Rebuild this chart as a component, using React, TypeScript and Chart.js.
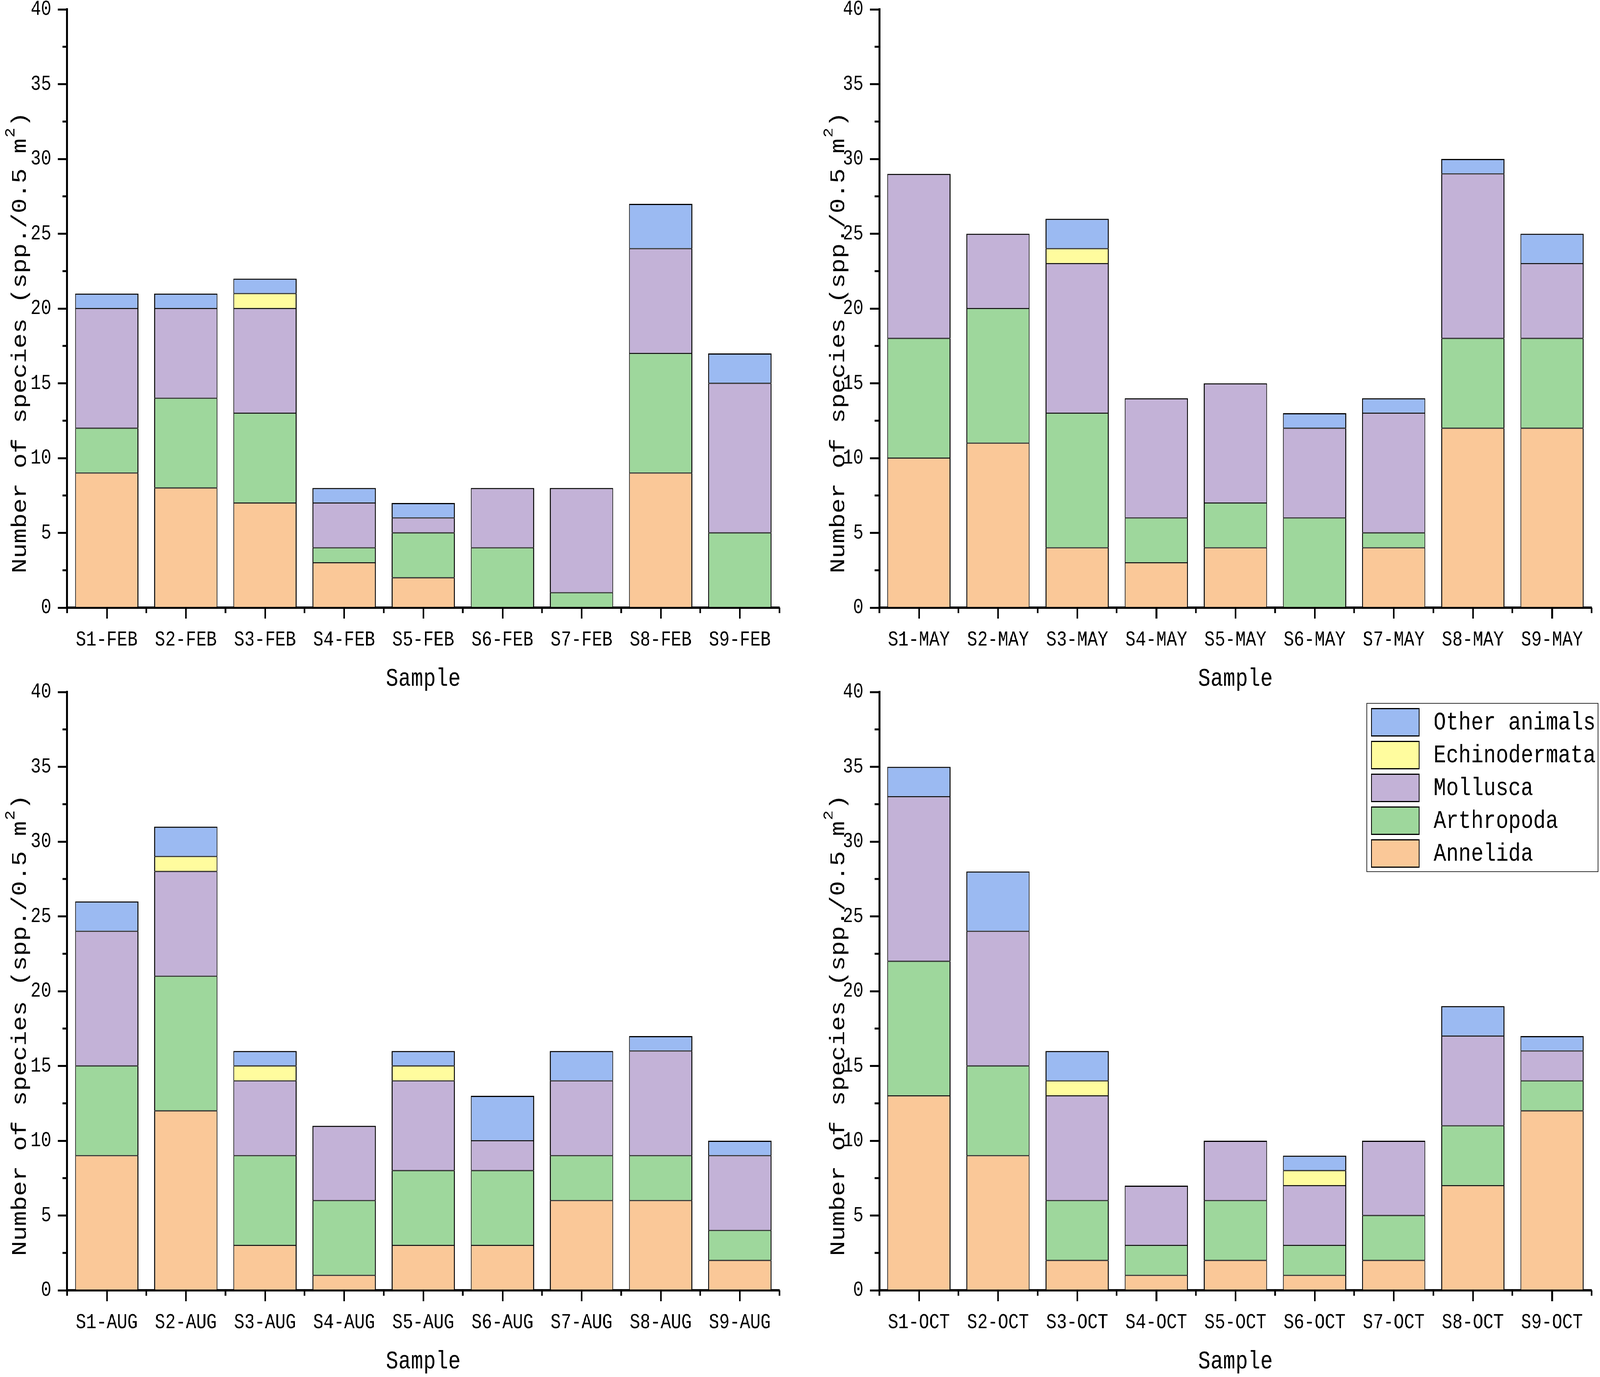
import React, { useEffect, useRef } from 'react';
import { Chart, registerables } from 'chart.js';

Chart.register(...registerables);

// ---------- data ----------
const SERIES = ['Annelida', 'Arthropoda', 'Mollusca', 'Echinodermata', 'Other animals'];
const COLORS = ['#FAC898', '#9ED79C', '#C3B2D7', '#FFFC9E', '#9BBAF2'];

const FEB_LABELS = ['S1-FEB', 'S2-FEB', 'S3-FEB', 'S4-FEB', 'S5-FEB', 'S6-FEB', 'S7-FEB', 'S8-FEB', 'S9-FEB'];
const MAY_LABELS = ['S1-MAY', 'S2-MAY', 'S3-MAY', 'S4-MAY', 'S5-MAY', 'S6-MAY', 'S7-MAY', 'S8-MAY', 'S9-MAY'];
const AUG_LABELS = ['S1-AUG', 'S2-AUG', 'S3-AUG', 'S4-AUG', 'S5-AUG', 'S6-AUG', 'S7-AUG', 'S8-AUG', 'S9-AUG'];
const OCT_LABELS = ['S1-OCT', 'S2-OCT', 'S3-OCT', 'S4-OCT', 'S5-OCT', 'S6-OCT', 'S7-OCT', 'S8-OCT', 'S9-OCT'];

const FEB_ANNELIDA = [9, 8, 7, 3, 2, 0, 0, 9, 0];
const FEB_ARTHROPODA = [3, 6, 6, 1, 3, 4, 1, 8, 5];
const FEB_MOLLUSCA = [8, 6, 7, 3, 1, 4, 7, 7, 10];
const FEB_ECHINODERMATA = [0, 0, 1, 0, 0, 0, 0, 0, 0];
const FEB_OTHER = [1, 1, 1, 1, 1, 0, 0, 3, 2];

const MAY_ANNELIDA = [10, 11, 4, 3, 4, 0, 4, 12, 12];
const MAY_ARTHROPODA = [8, 9, 9, 3, 3, 6, 1, 6, 6];
const MAY_MOLLUSCA = [11, 5, 10, 8, 8, 6, 8, 11, 5];
const MAY_ECHINODERMATA = [0, 0, 1, 0, 0, 0, 0, 0, 0];
const MAY_OTHER = [0, 0, 2, 0, 0, 1, 1, 1, 2];

const AUG_ANNELIDA = [9, 12, 3, 1, 3, 3, 6, 6, 2];
const AUG_ARTHROPODA = [6, 9, 6, 5, 5, 5, 3, 3, 2];
const AUG_MOLLUSCA = [9, 7, 5, 5, 6, 2, 5, 7, 5];
const AUG_ECHINODERMATA = [0, 1, 1, 0, 1, 0, 0, 0, 0];
const AUG_OTHER = [2, 2, 1, 0, 1, 3, 2, 1, 1];

const OCT_ANNELIDA = [13, 9, 2, 1, 2, 1, 2, 7, 12];
const OCT_ARTHROPODA = [9, 6, 4, 2, 4, 2, 3, 4, 2];
const OCT_MOLLUSCA = [11, 9, 7, 4, 4, 4, 5, 6, 2];
const OCT_ECHINODERMATA = [0, 0, 1, 0, 0, 1, 0, 0, 0];
const OCT_OTHER = [2, 4, 2, 0, 0, 1, 0, 2, 1];

const Y_MIN = 0;
const Y_MAX = 40;
const Y_STEP = 5;
const X_TITLE = 'Sample';
const Y_TITLE_MAIN = 'Number of species (spp./0.5 m';
const Y_TITLE_SUP = '2';
const Y_TITLE_END = ')';

// ---------- layout (design space 4933 x 3526) ----------
const DESIGN_W = 4933;
const DESIGN_H = 3526;
const FONT = "'Liberation Mono', 'DejaVu Sans Mono', monospace";
const PLOT_W = 2196;
const PLOT_H = 1532;
const X_AXIS_H = 221;

type Geo = { cl: number; ct: number; cw: number; ch: number; plotLeft: number; plotTop: number; titleX: number };

const COLS = [
  { cl: 0, cw: 2480, plotLeft: 207, titleX: 80 },
  { cl: 2480, cw: 2453, plotLeft: 2711, titleX: 2603 },
];
const ROWS = [
  { ct: 0, ch: 1800, plotTop: 24 },
  { ct: 1700, ch: 1826, plotTop: 1772 },
];

const LEGEND_BOX = { x: 4214, y: 1801, w: 713, h: 431 };

function geoOf(c: number, r: number): Geo {
  return { ...COLS[c], ...ROWS[r] } as Geo;
}

function getScales(): { sx: number; sy: number } {
  if (typeof window === 'undefined') return { sx: 1, sy: 1 };
  const w = document.documentElement.clientWidth || window.innerWidth || DESIGN_W;
  const h = window.innerHeight || document.documentElement.clientHeight || DESIGN_H;
  return { sx: Math.min(1, w / DESIGN_W), sy: Math.min(1, h / DESIGN_H) };
}

function Panel({ labels, values, geo, legend, ratio }: { labels: string[]; values: number[][]; geo: Geo; legend: boolean; ratio: number }) {
  const ref = useRef<HTMLCanvasElement>(null);

  useEffect(() => {
    const canvas = ref.current;
    if (!canvas) return;
    const yW = geo.plotLeft - geo.cl;
    const padTop = geo.plotTop - geo.ct;
    const padRight = geo.cw - yW - PLOT_W;
    const padBottom = geo.ch - padTop - PLOT_H - X_AXIS_H;

    const isTop = (j: number, i: number) => {
      for (let k = i + 1; k < values.length; k++) if (values[k][j] > 0) return false;
      return true;
    };

    const datasets = SERIES.map((name, i) => ({
      label: name,
      data: values[i],
      backgroundColor: COLORS[i],
      borderColor: '#000000',
      borderWidth: (c: any) => ({ left: 3, right: 3, bottom: 1.5, top: isTop(c.dataIndex, i) ? 3 : 1.5 }),
      borderSkipped: false,
      barPercentage: 0.8,
      categoryPercentage: 1,
    }));

    const decor = {
      id: 'decor',
      afterDraw(chart: any) {
        const ctx: CanvasRenderingContext2D = chart.ctx;
        const xs = chart.scales.x;
        const ys = chart.scales.y;
        const ca = chart.chartArea;
        ctx.save();
        ctx.strokeStyle = '#000';
        ctx.lineWidth = 5;
        ctx.lineCap = 'butt';
        // minor y ticks
        const yt = ys.ticks;
        for (let k = 0; k < yt.length - 1; k++) {
          const py = ys.getPixelForValue((yt[k].value + yt[k + 1].value) / 2);
          ctx.beginPath();
          ctx.moveTo(ca.left - 14, py);
          ctx.lineTo(ca.left, py);
          ctx.stroke();
        }
        // minor x ticks at category boundaries
        for (let k = 0; k <= labels.length; k++) {
          const px = xs.getPixelForValue(k - 0.5);
          ctx.beginPath();
          ctx.moveTo(px, ca.bottom);
          ctx.lineTo(px, ca.bottom + 14);
          ctx.stroke();
        }
        // y axis title with superscript
        ctx.fillStyle = '#000';
        ctx.translate(geo.titleX - geo.cl, ca.bottom - 88);
        ctx.rotate(-Math.PI / 2);
        ctx.textAlign = 'left';
        ctx.textBaseline = 'alphabetic';
        ctx.font = `64px ${FONT}`;
        ctx.fillText(Y_TITLE_MAIN, 0, 0);
        let w = ctx.measureText(Y_TITLE_MAIN).width;
        ctx.font = `42px ${FONT}`;
        ctx.fillText(Y_TITLE_SUP, w + 2, -36);
        w += ctx.measureText(Y_TITLE_SUP).width + 4;
        ctx.font = `64px ${FONT}`;
        ctx.fillText(Y_TITLE_END, w, 0);
        ctx.restore();

        if (legend) {
          ctx.save();
          const bx = LEGEND_BOX.x - geo.cl;
          const by = LEGEND_BOX.y - geo.ct;
          ctx.fillStyle = '#fff';
          ctx.fillRect(bx, by, LEGEND_BOX.w, LEGEND_BOX.h);
          ctx.strokeStyle = '#333';
          ctx.lineWidth = 2;
          ctx.strokeRect(bx, by, LEGEND_BOX.w, LEGEND_BOX.h);
          const dsets = chart.data.datasets.slice().reverse();
          ctx.font = `64px ${FONT}`;
          ctx.textAlign = 'left';
          ctx.textBaseline = 'middle';
          dsets.forEach((d: any, idx: number) => {
            const sy = by + 12 + idx * 84;
            const sx = bx + 13;
            ctx.fillStyle = d.backgroundColor;
            ctx.fillRect(sx, sy, 150, 73);
            ctx.strokeStyle = '#000';
            ctx.lineWidth = 3;
            ctx.strokeRect(sx + 1.5, sy + 1.5, 147, 70);
            ctx.fillStyle = '#000';
            ctx.fillText(d.label, bx + 206, sy + 38);
          });
          ctx.restore();
        }
      },
    };

    const chart = new Chart(canvas, {
      type: 'bar',
      data: { labels, datasets: datasets as any },
      options: {
        responsive: false,
        maintainAspectRatio: false,
        devicePixelRatio: ratio,
        animation: false,
        layout: { padding: { left: 0, top: padTop, right: padRight, bottom: padBottom } },
        plugins: { legend: { display: false }, tooltip: { enabled: false }, title: { display: false } },
        scales: {
          x: {
            stacked: true,
            grid: { display: true, drawOnChartArea: false, drawTicks: true, tickLength: 28, tickWidth: 5, tickColor: '#000', offset: false },
            border: { display: true, width: 6, color: '#000' },
            ticks: { font: { family: FONT, size: 53 }, color: '#000', padding: 23, maxRotation: 0, minRotation: 0, autoSkip: false },
            title: { display: true, text: X_TITLE, font: { family: FONT, size: 64 }, color: '#000', padding: 0 },
            afterFit: (s: any) => {
              s.height = X_AXIS_H;
              s.paddingLeft = 0;
              s.paddingRight = 0;
              s.paddingTop = 0;
              s.paddingBottom = 0;
            },
          },
          y: {
            stacked: true,
            min: Y_MIN,
            max: Y_MAX,
            ticks: { stepSize: Y_STEP, font: { family: FONT, size: 53 }, color: '#000', padding: 20 },
            grid: { display: true, drawOnChartArea: false, drawTicks: true, tickLength: 29, tickWidth: 5, tickColor: '#000' },
            border: { display: true, width: 6, color: '#000' },
            afterFit: (s: any) => {
              s.width = yW;
              s.paddingTop = 0;
              s.paddingBottom = 0;
              s.paddingLeft = 0;
              s.paddingRight = 0;
            },
          },
        },
      } as any,
      plugins: [decor],
    });
    return () => chart.destroy();
  }, []);

  return (
    <canvas
      ref={ref}
      width={geo.cw}
      height={geo.ch}
      style={{ position: 'absolute', left: geo.cl, top: geo.ct, width: geo.cw, height: geo.ch }}
    />
  );
}

export default function App() {
  const { sx, sy } = getScales();
  const dpr = typeof window !== 'undefined' ? window.devicePixelRatio || 1 : 1;
  const ratio = Math.max(sx, sy) * dpr;
  return (
    <div style={{ position: 'absolute', left: 0, top: 0, width: DESIGN_W * sx, height: DESIGN_H * sy, overflow: 'hidden', background: '#fff' }}>
      <div style={{ position: 'absolute', left: 0, top: 0, width: DESIGN_W, height: DESIGN_H, transform: `scale(${sx}, ${sy})`, transformOrigin: '0 0' }}>
        <Panel labels={FEB_LABELS} values={[FEB_ANNELIDA, FEB_ARTHROPODA, FEB_MOLLUSCA, FEB_ECHINODERMATA, FEB_OTHER]} geo={geoOf(0, 0)} legend={false} ratio={ratio} />
        <Panel labels={MAY_LABELS} values={[MAY_ANNELIDA, MAY_ARTHROPODA, MAY_MOLLUSCA, MAY_ECHINODERMATA, MAY_OTHER]} geo={geoOf(1, 0)} legend={false} ratio={ratio} />
        <Panel labels={AUG_LABELS} values={[AUG_ANNELIDA, AUG_ARTHROPODA, AUG_MOLLUSCA, AUG_ECHINODERMATA, AUG_OTHER]} geo={geoOf(0, 1)} legend={false} ratio={ratio} />
        <Panel labels={OCT_LABELS} values={[OCT_ANNELIDA, OCT_ARTHROPODA, OCT_MOLLUSCA, OCT_ECHINODERMATA, OCT_OTHER]} geo={geoOf(1, 1)} legend={true} ratio={ratio} />
      </div>
    </div>
  );
}
